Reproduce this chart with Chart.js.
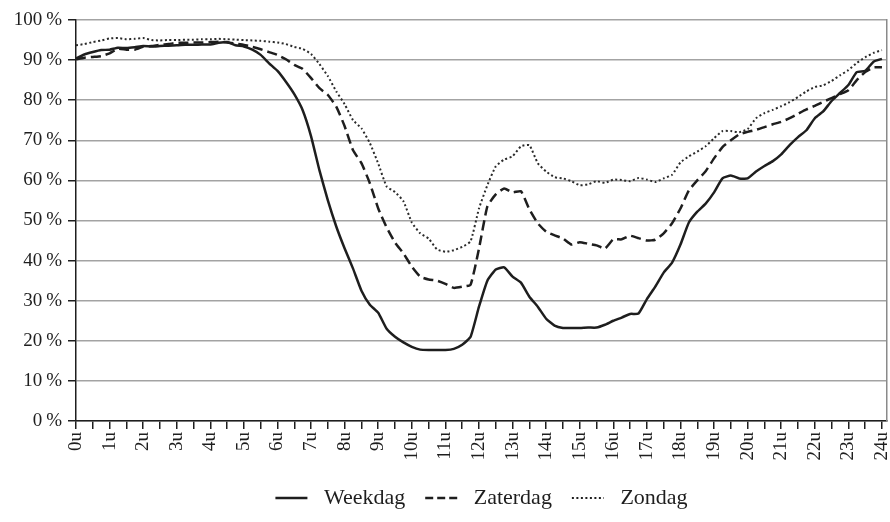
<!DOCTYPE html>
<html>
<head>
<meta charset="utf-8">
<script src="https://cdn.jsdelivr.net/npm/chart.js@4.4.1/dist/chart.umd.min.js"></script>
<style>
  html, body { margin: 0; padding: 0; background: #ffffff; }
  #wrap { width: 890px; height: 522px; }
</style>
</head>
<body>
<div id="wrap"><canvas id="c" width="890" height="522"></canvas></div>
<script>
// Time of day in hours (quarter-hour steps)
const hours = [0,0.25,0.5,0.75,1,1.25,1.5,1.75,2,2.25,2.5,2.75,3,3.25,3.5,3.75,4,4.25,4.5,4.75,5,5.25,5.5,5.75,6,6.25,6.5,6.75,7,7.25,7.5,7.75,8,8.25,8.5,8.75,9,9.25,9.5,9.75,10,10.25,10.5,10.75,11,11.25,11.5,11.75,12,12.25,12.5,12.75,13,13.25,13.5,13.75,14,14.25,14.5,14.75,15,15.25,15.5,15.75,16,16.25,16.5,16.75,17,17.25,17.5,17.75,18,18.25,18.5,18.75,19,19.25,19.5,19.75,20,20.25,20.5,20.75,21,21.25,21.5,21.75,22,22.25,22.5,22.75,23,23.25,23.5,23.75,24];

const weekdag = [90.4,91.4,92.0,92.5,92.6,93.1,93.0,93.2,93.5,93.4,93.5,93.6,93.7,93.8,93.8,93.9,93.9,94.3,94.5,93.7,93.4,92.6,91.3,89.2,87.3,84.6,81.5,77.5,71.0,62.5,55.0,48.5,43.0,38.0,32.5,29.0,27.0,23.0,21.0,19.6,18.5,17.8,17.7,17.7,17.7,18.0,19.0,21.0,28.5,35.0,37.8,38.3,36.0,34.5,31.0,28.5,25.5,23.8,23.2,23.2,23.2,23.3,23.3,24.0,25.0,25.8,26.7,26.8,30.4,33.5,37.0,39.5,44.0,49.5,52.2,54.2,57.0,60.5,61.2,60.5,60.5,62.2,63.6,64.8,66.5,68.8,70.8,72.5,75.5,77.2,79.8,81.8,83.8,87.0,87.3,89.6,90.3];

const zaterdag = [90.2,90.6,90.8,91.0,91.7,92.8,92.6,92.6,93.3,93.5,93.8,94.0,94.3,94.3,94.4,94.4,94.5,94.6,94.4,94.1,93.8,93.3,92.7,92.0,91.3,90.2,88.8,87.8,85.5,83.0,81.3,78.4,73.5,67.5,64.3,59.3,53.0,48.3,44.5,41.8,38.5,36.0,35.3,35.0,34.2,33.2,33.5,34.0,43.0,53.5,56.5,58.0,57.0,57.3,52.8,49.3,47.2,46.3,45.5,44.0,44.6,44.2,43.8,43.0,45.3,45.3,46.2,45.6,45.0,45.2,46.8,49.3,53.0,57.5,60.0,62.3,65.5,68.3,70.0,71.5,72.1,72.6,73.3,74.0,74.6,75.5,76.6,77.7,78.6,79.6,80.5,81.5,82.5,85.0,87.0,88.2,88.2];

const zondag = [93.7,94.0,94.5,94.9,95.4,95.5,95.2,95.3,95.5,95.0,94.9,95.0,95.0,95.1,95.1,95.2,95.2,95.3,95.2,95.1,95.0,94.9,94.8,94.6,94.4,94.0,93.3,92.8,91.5,89.0,86.0,82.2,79.0,75.0,73.0,69.3,64.2,58.5,57.1,54.8,49.5,46.8,45.5,42.8,42.2,42.6,43.4,44.8,53.0,58.8,63.5,65.2,66.0,68.5,68.8,64.3,62.2,60.8,60.5,59.8,58.8,59.0,59.8,59.4,60.2,60.1,59.8,60.6,60.2,59.6,60.5,61.4,64.5,66.0,67.2,68.5,70.5,72.3,72.3,72.0,72.8,75.5,76.8,77.6,78.5,79.5,80.8,82.2,83.3,83.7,84.8,86.2,87.5,89.3,90.7,91.8,92.5];

const seriesNames = ['Weekdag', 'Zaterdag', 'Zondag'];
const hourLabels = ['0u','1u','2u','3u','4u','5u','6u','7u','8u','9u','10u','11u','12u','13u','14u','15u','16u','17u','18u','19u','20u','21u','22u','23u','24u'];
const percentLabels = ['0\u2009%','10\u2009%','20\u2009%','30\u2009%','40\u2009%','50\u2009%','60\u2009%','70\u2009%','80\u2009%','90\u2009%','100\u2009%'];

const FONT = "'Liberation Serif', 'DejaVu Serif', serif";
const INK = '#1e1e1e';

function pts(arr) { return hours.map((h, i) => ({ x: h, y: arr[i] })); }

const legendDash = [[], [8, 4], [2, 2.5]];
const legendWidth = [2.5, 2.5, 2];

new Chart(document.getElementById('c'), {
  type: 'line',
  data: {
    datasets: [
      { label: seriesNames[0], data: pts(weekdag), borderColor: INK, backgroundColor: INK, borderWidth: 2.5, pointRadius: 0, tension: 0.15 },
      { label: seriesNames[1], data: pts(zaterdag), borderColor: INK, backgroundColor: INK, borderWidth: 2.5, borderDash: [10, 5], pointRadius: 0, tension: 0.15 },
      { label: seriesNames[2], data: pts(zondag), borderColor: '#2a2a2a', backgroundColor: INK, borderWidth: 2, borderDash: [2, 2.5], pointRadius: 0, tension: 0.15 }
    ]
  },
  options: {
    responsive: false,
    animation: false,
    devicePixelRatio: 1,
    layout: { padding: { left: 0, right: 3, top: 20, bottom: 3 } },
    plugins: {
      tooltip: { enabled: false },
      legend: {
        position: 'bottom',
        fullSize: false,
        labels: {
          usePointStyle: true,
          pointStyle: 'line',
          pointStyleWidth: 32,
          padding: 20,
          color: INK,
          font: { family: FONT, size: 22 },
          generateLabels: (chart) => {
            const items = Chart.defaults.plugins.legend.labels.generateLabels(chart);
            items.forEach((it, i) => {
              it.text = ' ' + it.text;
              it.lineDash = legendDash[i];
              it.lineWidth = legendWidth[i];
              it.strokeStyle = INK;
            });
            return items;
          }
        }
      }
    },
    scales: {
      x: {
        type: 'linear',
        min: 0,
        max: 24.15,
        grid: { drawOnChartArea: false, drawTicks: true, tickLength: 8, color: INK, tickColor: INK, lineWidth: 1.5 },
        border: { display: true, color: INK, width: 1.5 },
        ticks: {
          stepSize: 0.5,
          includeBounds: false,
          autoSkip: false,
          maxRotation: 90,
          minRotation: 90,
          padding: 3,
          color: INK,
          font: { family: FONT, size: 19 },
          callback: (v) => Number.isInteger(v) ? hourLabels[v] : ''
        },
        afterFit: (s) => { s.height = 46; s.paddingLeft = 0; s.paddingRight = 0; }
      },
      y: {
        min: 0,
        max: 100,
        grid: { color: '#a3a3a3', tickColor: INK, lineWidth: 1.5, tickLength: 8 },
        border: { display: true, color: INK, width: 1.5 },
        ticks: {
          stepSize: 10,
          padding: 6,
          color: INK,
          font: { family: FONT, size: 19 },
          callback: (v) => percentLabels[Math.round(v / 10)]
        },
        afterFit: (s) => { s.width = 76; s.paddingTop = 0; s.paddingBottom = 0; }
      },
      y2: {
        position: 'right',
        min: 0,
        max: 100,
        grid: { drawOnChartArea: false, drawTicks: false },
        border: { display: true, color: '#8a8a8a', width: 1.5 },
        ticks: { display: false },
        afterFit: (s) => { s.width = 0; s.paddingTop = 0; s.paddingBottom = 0; }
      }
    }
  }
});
</script>
</body>
</html>
